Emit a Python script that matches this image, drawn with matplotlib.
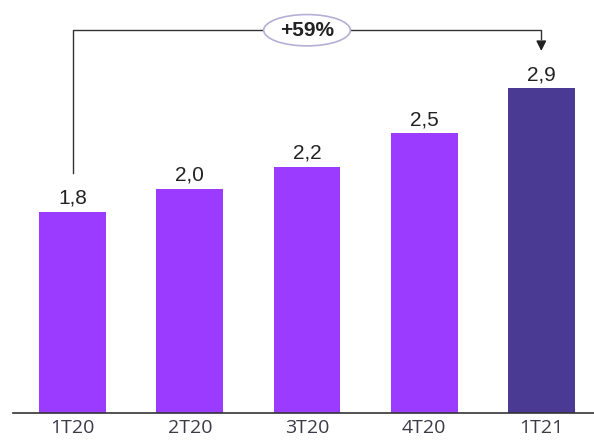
import matplotlib.pyplot as plt
from matplotlib.patches import Ellipse

quarters = ["1T20", "2T20", "3T20", "4T20", "1T21"]
values = [1.8, 2.0, 2.2, 2.5, 2.9]
growth_label = "+59%"

bar_colors = ["#9B3BFF"] * 4 + ["#4B3A94"]

plt.rcParams["font.family"] = ["Open Sans", "DejaVu Sans"]

fig = plt.figure(figsize=(5.94, 4.43), dpi=100)
ax = fig.add_axes([13 / 594, 30 / 443, 581 / 594, 413 / 443])

x = range(len(quarters))
ax.bar(x, values, width=0.57, color=bar_colors)
for xi, v in zip(x, values):
    ax.annotate(f"{v:.1f}".replace(".", ","), (xi, v), xytext=(0, 3),
                textcoords="offset points", ha="center", va="bottom",
                fontsize=15, color="#222222", family="Liberation Sans")

ax.set_xlim(-0.51, 4.45)
ax.set_ylim(0, 3.69)
ax.set_xticks(list(x))
ax.set_xticklabels(quarters, fontsize=14, color="#3A3A48")
ax.tick_params(axis="x", length=0, pad=4)
ax.set_yticks([])
for side in ["left", "right", "top"]:
    ax.spines[side].set_visible(False)
ax.spines["bottom"].set_color("#333333")
ax.spines["bottom"].set_linewidth(1.2)

# growth bracket from first to last quarter
top = 3.42
ax.plot([0, 0, 4, 4], [values[0] + 0.34, top, top, top - 0.08],
        color="#333333", lw=1.0)
ax.annotate("", xy=(4, values[-1] + 0.31), xytext=(4, top - 0.1),
            arrowprops=dict(arrowstyle="-|>", color="#222222", lw=1.0,
                            mutation_scale=15))
mid = 2.0
ax.add_patch(Ellipse((mid, top), width=0.74, height=0.28, facecolor="white",
                     edgecolor="#B7AED6", lw=1.2, zorder=3))
ax.text(mid, top, growth_label, ha="center", va="center", fontsize=15,
        fontweight="bold", color="#222222", zorder=4, family="Liberation Sans")

fig.savefig("out.png", dpi=100)
